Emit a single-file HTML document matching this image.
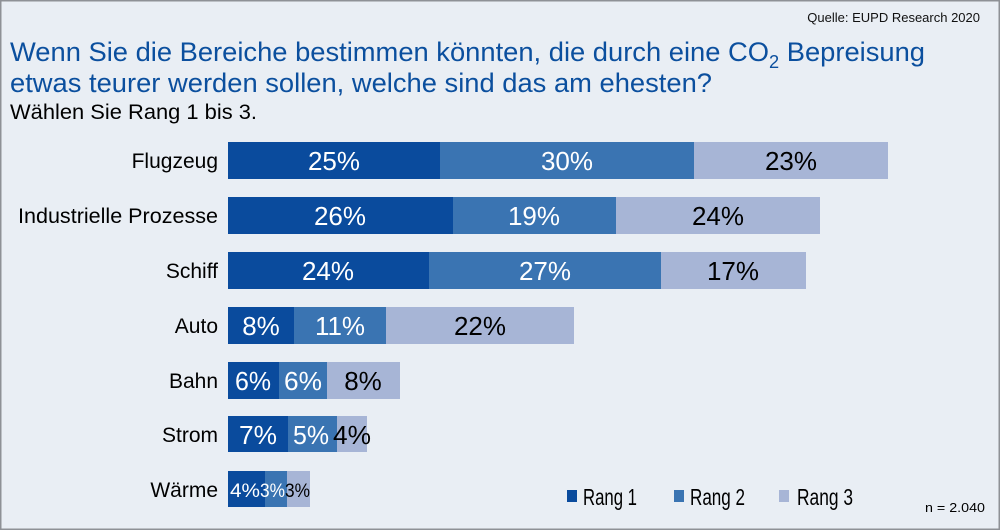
<!DOCTYPE html>
<html><head><meta charset="utf-8"><style>
body{margin:0;width:1000px;height:530px;overflow:hidden;background:#e9eef4}
svg{display:block;font-family:"Liberation Sans",sans-serif}
</style></head><body>
<svg width="1000" height="530" viewBox="0 0 1000 530">
<rect x="0.5" y="0.5" width="999" height="529" fill="#e9eef4" stroke="#8e9196" stroke-width="2"/>
<text x="980" y="22" font-size="13" text-anchor="end" fill="#111">Quelle: EUPD Research 2020</text>
<text x="10" y="61" font-size="27" fill="#0b4f9e" textLength="915" lengthAdjust="spacingAndGlyphs">Wenn Sie die Bereiche bestimmen könnten, die durch eine CO<tspan font-size="18" dy="7">2</tspan><tspan dy="-7"> Bepreisung</tspan></text>
<text x="10" y="92" font-size="27" fill="#0b4f9e" textLength="702" lengthAdjust="spacingAndGlyphs">etwas teurer werden sollen, welche sind das am ehesten?</text>
<text x="10" y="119" font-size="21" fill="#000" textLength="247" lengthAdjust="spacingAndGlyphs">Wählen Sie Rang 1 bis 3.</text>
<g font-size="21" text-anchor="end" fill="#000">
<text x="218" y="168">Flugzeug</text>
<text x="218" y="223" textLength="200" lengthAdjust="spacingAndGlyphs">Industrielle Prozesse</text>
<text x="218" y="278">Schiff</text>
<text x="218" y="333">Auto</text>
<text x="218" y="388">Bahn</text>
<text x="218" y="442">Strom</text>
<text x="218" y="497">Wärme</text>
</g>
<g>
<rect x="228" y="142" width="212" height="37" fill="#0a4b9d"/><rect x="440" y="142" width="254" height="37" fill="#3a74b2"/><rect x="694" y="142" width="194" height="37" fill="#a7b5d6"/>
<rect x="228" y="197" width="225" height="37" fill="#0a4b9d"/><rect x="453" y="197" width="163" height="37" fill="#3a74b2"/><rect x="616" y="197" width="204" height="37" fill="#a7b5d6"/>
<rect x="228" y="252" width="201" height="37" fill="#0a4b9d"/><rect x="429" y="252" width="232" height="37" fill="#3a74b2"/><rect x="661" y="252" width="145" height="37" fill="#a7b5d6"/>
<rect x="228" y="307" width="66" height="37" fill="#0a4b9d"/><rect x="294" y="307" width="92" height="37" fill="#3a74b2"/><rect x="386" y="307" width="188" height="37" fill="#a7b5d6"/>
<rect x="228" y="362" width="51" height="37" fill="#0a4b9d"/><rect x="279" y="362" width="48" height="37" fill="#3a74b2"/><rect x="327" y="362" width="73" height="37" fill="#a7b5d6"/>
<rect x="228" y="416" width="60" height="36" fill="#0a4b9d"/><rect x="288" y="416" width="49" height="36" fill="#3a74b2"/><rect x="337" y="416" width="30" height="36" fill="#a7b5d6"/>
<rect x="228" y="471" width="37" height="36" fill="#0a4b9d"/><rect x="265" y="471" width="22" height="36" fill="#3a74b2"/><rect x="287" y="471" width="23" height="36" fill="#a7b5d6"/>
</g>
<g font-size="26" text-anchor="middle">
<text x="334" y="170" fill="#fff">25%</text><text x="567" y="170" fill="#fff">30%</text><text x="791" y="170" fill="#000">23%</text>
<text x="340" y="225" fill="#fff">26%</text><text x="534" y="225" fill="#fff">19%</text><text x="718" y="225" fill="#000">24%</text>
<text x="328" y="280" fill="#fff">24%</text><text x="545" y="280" fill="#fff">27%</text><text x="733" y="280" fill="#000">17%</text>
<text x="261" y="335" fill="#fff">8%</text><text x="340" y="335" fill="#fff">11%</text><text x="480" y="335" fill="#000">22%</text>
<text x="253" y="390" fill="#fff" textLength="36" lengthAdjust="spacingAndGlyphs">6%</text><text x="303" y="390" fill="#fff" textLength="38" lengthAdjust="spacingAndGlyphs">6%</text><text x="363" y="390" fill="#000">8%</text>
<text x="258" y="444" fill="#fff" textLength="38" lengthAdjust="spacingAndGlyphs">7%</text><text x="311" y="444" fill="#fff" textLength="36" lengthAdjust="spacingAndGlyphs">5%</text><text x="352" y="444" fill="#000" textLength="38" lengthAdjust="spacingAndGlyphs">4%</text>
</g>
<g font-size="19">
<text x="230" y="497" fill="#fff" textLength="30" lengthAdjust="spacingAndGlyphs">4%</text>
<text x="260" y="497" fill="#fff" textLength="25" lengthAdjust="spacingAndGlyphs">3%</text>
<text x="285" y="497" fill="#000" textLength="25" lengthAdjust="spacingAndGlyphs">3%</text>
</g>
<rect x="567" y="490" width="10" height="12" fill="#0a4b9d"/>
<text x="583" y="505" font-size="23" textLength="54" lengthAdjust="spacingAndGlyphs">Rang 1</text>
<rect x="674" y="490" width="10" height="12" fill="#3a74b2"/>
<text x="690" y="505" font-size="23" textLength="55" lengthAdjust="spacingAndGlyphs">Rang 2</text>
<rect x="779" y="490" width="10" height="12" fill="#a7b5d6"/>
<text x="797" y="505" font-size="23" textLength="56" lengthAdjust="spacingAndGlyphs">Rang 3</text>
<text x="985" y="512" font-size="13" text-anchor="end" textLength="60" lengthAdjust="spacingAndGlyphs">n = 2.040</text>
</svg>
</body></html>
